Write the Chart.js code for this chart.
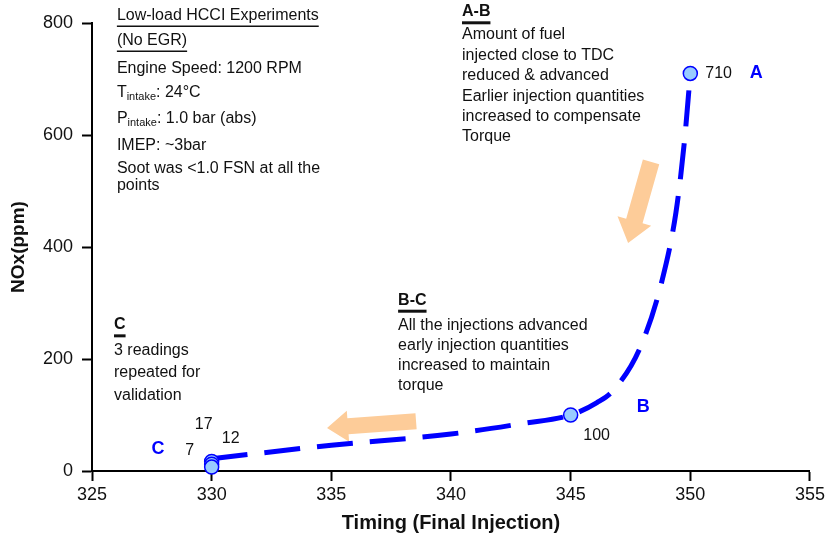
<!DOCTYPE html>
<html>
<head>
<meta charset="utf-8">
<script src="https://cdn.jsdelivr.net/npm/chart.js@4.4.0/dist/chart.umd.min.js"></script>
<style>
  body { margin: 0; background: #fff; }
  #chart { width: 828px; height: 543px; position: relative; }
</style>
</head>
<body>
<div id="chart"><canvas id="myChart"></canvas></div>
<script>
// measured points (timing of final injection, NOx ppm)
var timing = [350, 345, 330, 330, 330];
var nox = [710, 100, 17, 12, 7];
var pointLabels = ['710', '100', '17', '12', '7'];

// hand drawn trend line
var trendTiming = [330, 335, 340, 343, 345, 346.1, 346.8, 347.9, 348.8, 349.4, 349.75, 350];
var trendNox = [22, 46, 66, 85, 100, 122, 145, 220, 337, 462, 587, 710];

var xTicks = [325, 330, 335, 340, 345, 350, 355];
var yTicks = [0, 200, 400, 600, 800];

// region letters A, B, C
var regionNames = ['A', 'B', 'C'];
var regionX = [352.75, 348.03, 327.76];
var regionY = [710, 114, 39];

// orange arrows, tail -> tip in data units
var arrowTail = [[348.36, 552], [338.54, 89]];
var arrowTip = [[347.40, 407], [334.82, 77]];

var FONT = "'Liberation Sans', Arial, sans-serif";
var BLUE = '#0000ff';

// label offsets in px relative to each point
var labelOffsets = [[15, 0, 'left'], [26, 21, 'center'], [-8, -37, 'center'], [19, -26, 'center'], [-22, -16, 'center']];

// text blocks: anchor in data units, then lines
var blocks = [
    { x: 326.04, y: 814, lines: [
        { t: 'Low-load HCCI Experiments', dy: 0, u: true },
        { t: '(No EGR)', dy: 25, u: true },
        { t: 'Engine Speed: 1200 RPM', dy: 53 },
        { t: 'T', sub: 'intake', after: ': 24\u00B0C', dy: 77 },
        { t: 'P', sub: 'intake', after: ': 1.0 bar (abs)', dy: 103 },
        { t: 'IMEP: ~3bar', dy: 130 },
        { t: 'Soot was <1.0 FSN at all the', dy: 153 },
        { t: 'points', dy: 170 }
    ]},
    { x: 340.46, y: 820, lines: [
        { t: 'A-B', dy: 0, u: true, bold: true },
        { t: 'Amount of fuel', dy: 23 },
        { t: 'injected close to TDC', dy: 44 },
        { t: 'reduced & advanced', dy: 64 },
        { t: 'Earlier injection quantities', dy: 85 },
        { t: 'increased to compensate', dy: 105 },
        { t: 'Torque', dy: 125 }
    ]},
    { x: 337.79, y: 305, lines: [
        { t: 'B-C', dy: 0, u: true, bold: true },
        { t: 'All the injections advanced', dy: 25 },
        { t: 'early injection quantities', dy: 45 },
        { t: 'increased to maintain', dy: 65 },
        { t: 'torque', dy: 85 }
    ]},
    { x: 325.92, y: 261, lines: [
        { t: 'C', dy: 0, u: true, bold: true },
        { t: '3 readings', dy: 26 },
        { t: 'repeated for', dy: 48 },
        { t: 'validation', dy: 71 }
    ]}
];

function drawArrow(ctx, tx, ty, px, py, sw, hw, hl) {
    var dx = px - tx, dy = py - ty;
    var len = Math.sqrt(dx * dx + dy * dy);
    var ux = dx / len, uy = dy / len;
    var nx = -uy, ny = ux;
    var bx = px - ux * hl, by = py - uy * hl;
    ctx.beginPath();
    ctx.moveTo(tx + nx * sw, ty + ny * sw);
    ctx.lineTo(bx + nx * sw, by + ny * sw);
    ctx.lineTo(bx + nx * hw, by + ny * hw);
    ctx.lineTo(px, py);
    ctx.lineTo(bx - nx * hw, by - ny * hw);
    ctx.lineTo(bx - nx * sw, by - ny * sw);
    ctx.lineTo(tx - nx * sw, ty - ny * sw);
    ctx.closePath();
    ctx.fill();
}

var arrowPlugin = {
    id: 'arrows',
    beforeDatasetsDraw: function (chart) {
        var ctx = chart.ctx, xs = chart.scales.x, ys = chart.scales.y;
        ctx.save();
        ctx.fillStyle = 'rgb(253,204,153)';
        var sizes = [[8.5, 17.5, 23], [8, 15.5, 21]];
        for (var i = 0; i < arrowTail.length; i++) {
            drawArrow(ctx,
                xs.getPixelForValue(arrowTail[i][0]), ys.getPixelForValue(arrowTail[i][1]),
                xs.getPixelForValue(arrowTip[i][0]), ys.getPixelForValue(arrowTip[i][1]),
                sizes[i][0], sizes[i][1], sizes[i][2]);
        }
        ctx.restore();
    }
};

var textPlugin = {
    id: 'notes',
    afterDraw: function (chart) {
        var ctx = chart.ctx, xs = chart.scales.x, ys = chart.scales.y;
        ctx.save();
        ctx.textBaseline = 'middle';

        // point value labels
        var meta = chart.getDatasetMeta(0);
        ctx.fillStyle = '#111';
        ctx.font = '16px ' + FONT;
        meta.data.forEach(function (pt, i) {
            ctx.textAlign = labelOffsets[i][2];
            ctx.fillText(pointLabels[i], pt.x + labelOffsets[i][0], pt.y + labelOffsets[i][1]);
        });

        // region letters
        ctx.fillStyle = BLUE;
        ctx.font = 'bold 18px ' + FONT;
        ctx.textAlign = 'center';
        for (var r = 0; r < regionNames.length; r++) {
            ctx.fillText(regionNames[r], xs.getPixelForValue(regionX[r]), ys.getPixelForValue(regionY[r]));
        }

        // text blocks
        ctx.textAlign = 'left';
        ctx.fillStyle = '#111';
        ctx.strokeStyle = '#111';
        blocks.forEach(function (b) {
            var x0 = xs.getPixelForValue(b.x), y0 = ys.getPixelForValue(b.y);
            b.lines.forEach(function (ln) {
                var y = y0 + ln.dy;
                ctx.font = (ln.bold ? 'bold ' : '') + '16px ' + FONT;
                ctx.fillText(ln.t, x0, y);
                var w = ctx.measureText(ln.t).width;
                if (ln.sub) {
                    ctx.font = '11px ' + FONT;
                    ctx.fillText(ln.sub, x0 + w, y + 5);
                    w += ctx.measureText(ln.sub).width;
                    ctx.font = '16px ' + FONT;
                    ctx.fillText(ln.after, x0 + w, y);
                }
                if (ln.u) {
                    ctx.lineWidth = ln.bold ? 3 : 1.5;
                    ctx.beginPath();
                    ctx.moveTo(x0, y + 11);
                    ctx.lineTo(x0 + w, y + 11);
                    ctx.stroke();
                }
            });
        });
        ctx.restore();
    }
};

var ctx = document.getElementById('myChart').getContext('2d');
var myChart = new Chart(ctx, {
    type: 'scatter',
    data: {
        datasets: [{
            label: 'NOx',
            data: timing.map(function (t, i) { return { x: t, y: nox[i] }; }),
            pointRadius: 7,
            pointBackgroundColor: 'rgb(153,204,255)',
            pointBorderColor: BLUE,
            pointBorderWidth: 1.5,
            showLine: false,
            clip: false,
            order: 0
        }, {
            label: 'trend',
            data: trendTiming.map(function (t, i) { return { x: t, y: trendNox[i] }; }),
            showLine: true,
            pointRadius: 0,
            borderColor: BLUE,
            borderWidth: 5,
            borderDash: [36, 17],
            cubicInterpolationMode: 'monotone',
            order: 1
        }]
    },
    options: {
        responsive: true,
        maintainAspectRatio: false,
        animation: false,
        layout: { padding: { top: 23, right: 18, bottom: 0, left: 0 } },
        plugins: {
            legend: { display: false },
            tooltip: { enabled: false }
        },
        scales: {
            x: {
                type: 'linear',
                min: 325,
                max: 355,
                afterBuildTicks: function (s) { s.ticks = xTicks.map(function (v) { return { value: v }; }); },
                afterFit: function (s) { s.height = 72; },
                grid: { drawOnChartArea: false, drawTicks: true, tickLength: 10, tickWidth: 2, color: '#000' },
                border: { display: true, color: '#000', width: 2 },
                ticks: { color: '#111', font: { family: FONT, size: 18 }, padding: 3, maxRotation: 0 },
                title: { display: true, text: 'Timing (Final Injection)', color: '#111',
                    font: { family: FONT, size: 20, weight: 'bold' }, padding: { bottom: 8 } }
            },
            y: {
                min: 0,
                max: 800,
                afterBuildTicks: function (s) { s.ticks = yTicks.map(function (v) { return { value: v }; }); },
                afterFit: function (s) { s.width = 92; },
                grid: { drawOnChartArea: false, drawTicks: true, tickLength: 10, tickWidth: 2, color: '#000' },
                border: { display: true, color: '#000', width: 2 },
                ticks: { color: '#111', font: { family: FONT, size: 18 }, padding: 9 },
                title: { display: true, text: 'NOx(ppm)', color: '#111',
                    font: { family: FONT, size: 19, weight: 'bold' }, padding: { top: 7 } }
            }
        }
    },
    plugins: [arrowPlugin, textPlugin]
});
</script>
</body>
</html>
